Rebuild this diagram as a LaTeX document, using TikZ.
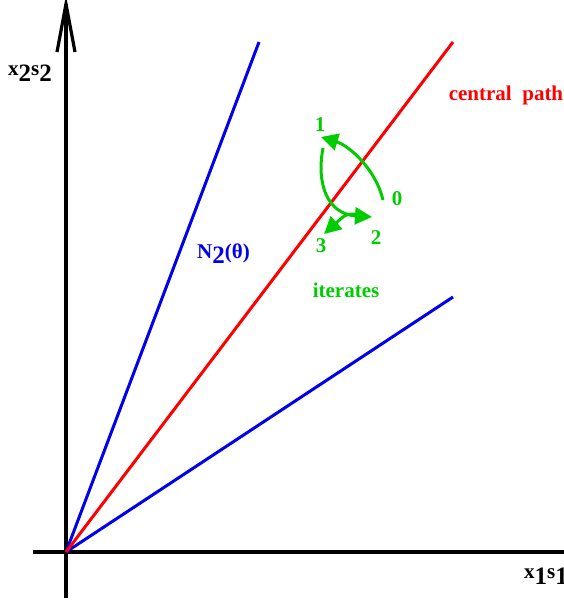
\documentclass[tikz,border=0pt]{standalone}
\usepackage{fontspec}
\setmainfont{Liberation Serif}
\usetikzlibrary{arrows.meta}
\definecolor{itgreen}{RGB}{0,204,0}
\definecolor{pathred}{RGB}{255,0,0}
\definecolor{nblue}{RGB}{0,0,235}
\newcommand\lowd[1]{\raisebox{-0.55ex}{\fontsize{25}{25}\selectfont\bfseries #1}}
\begin{document}
\begin{tikzpicture}[x=1pt,y=-1pt,
  axisline/.style={line width=3.2pt,black},
  bluecone/.style={line width=3pt,nblue},
  redpath/.style={line width=3pt,pathred},
  iterarrow/.style={line width=3pt,itgreen,-{Triangle[length=17pt,width=17pt]}},
  lbl/.style={font=\fontsize{21}{21}\selectfont\bfseries,inner sep=0pt},
  ]
\useasboundingbox (0,0) rectangle (563,601);
% coordinates
\coordinate (O) at (66,552);
\coordinate (Ybot) at (66,598);
\coordinate (Ytop) at (66,4);
\coordinate (Xleft) at (33,552);
\coordinate (Xright) at (570,552);
\coordinate (Bup) at (259,42);
\coordinate (Blow) at (453,297);
\coordinate (Rend) at (453,42);
\coordinate (BarbL) at (57,52);
\coordinate (BarbR) at (75,52);
% axes
\draw[axisline] (Ybot) -- (Ytop);
\draw[axisline,line join=miter] (BarbL) -- (Ytop) -- (BarbR);
\draw[axisline] (Xleft) -- (Xright);
% cone and central path
\draw[bluecone] (O) -- (Bup);
\draw[bluecone] (O) -- (Blow);
\draw[redpath] (O) -- (Rend);
% iterates
\coordinate (P0) at (383,200);
\coordinate (P1) at (321,137);
\coordinate (P1s) at (323,148);
\coordinate (P2) at (372,217);
\coordinate (P2s) at (357,214);
\coordinate (P3) at (324,234);
\draw[iterarrow] (P0) .. controls (376,170) and (350,146) .. (P1);
\draw[iterarrow] (P1s) .. controls (316,185) and (328,214) .. (P2);
\draw[iterarrow] (P2s) .. controls (346,214) .. (P3);
% labels
\node[lbl,itgreen] (n0) at (397,199) {0};
\node[lbl,itgreen] (n1) at (320,125) {1};
\node[lbl,itgreen] (n2) at (376,238) {2};
\node[lbl,itgreen] (n3) at (321,246) {3};
\node[lbl,itgreen] (it) at (346,290) {iterates};
\node[lbl,pathred] (cp) at (506,95) {central\ \ path};
\node[lbl,nblue,anchor=west] (N2) at (197,254) {N\lowd{2}(θ)};
\node[lbl,anchor=west] (yl) at (8,73) {x\lowd{2}s\lowd{2}};
\node[lbl,anchor=west] (xl) at (524,576) {x\lowd{1}s\lowd{1}};
\end{tikzpicture}
\end{document}
